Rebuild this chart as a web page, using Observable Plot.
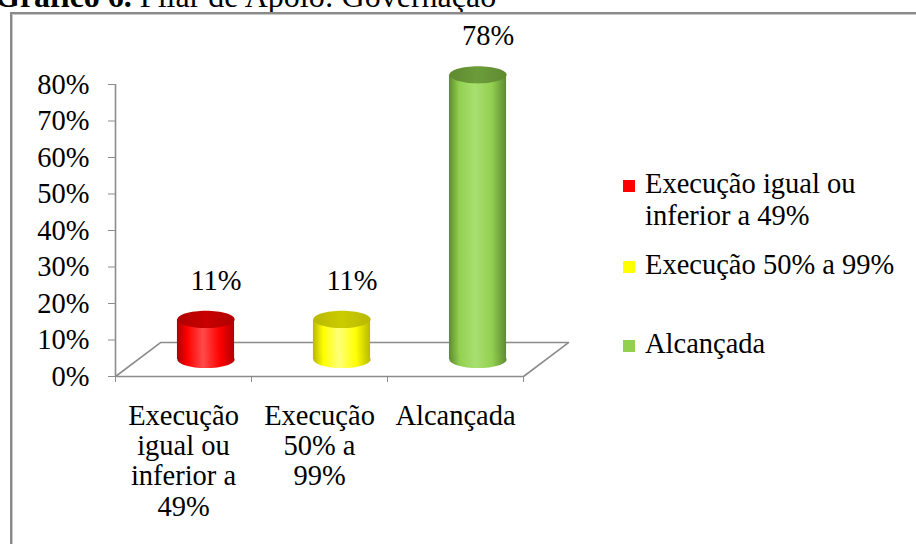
<!DOCTYPE html>
<html>
<head>
<meta charset="utf-8">
<script src="https://cdn.jsdelivr.net/npm/d3@7"></script>
<script src="https://cdn.jsdelivr.net/npm/@observablehq/plot@0.6"></script>
<style>
  html, body { margin: 0; padding: 0; background: #fff; }
  #wrap { position: relative; width: 916px; height: 544px; overflow: hidden; font-family: "Liberation Serif", "Times New Roman", serif; color: #000; }
  #frame { position: absolute; left: 10px; top: 12px; width: 1000px; height: 1000px; border-left: 2px solid #8a8a8a; border-top: 2px solid #8a8a8a; box-shadow: inset 1px 1px 0 #c8c8c8; }
  #title { position: absolute; left: -5px; top: -20px; font-size: 32px; line-height: 32px; white-space: nowrap; }
  #chart { position: absolute; left: 0; top: 0; }
  .leg { position: absolute; left: 623px; font-size: 28.5px; line-height: 32px; }
  .leg .sw { position: absolute; left: 0; width: 12px; height: 12px; }
  .leg .tx { position: absolute; left: 22px; white-space: nowrap; }
</style>
</head>
<body>
<div id="wrap">
  <div id="title"><b>Gráfico 6.</b> Pilar de Apoio: Governação</div>
  <div id="frame"></div>
  <div id="chart"></div>
</div>
<script>
// ---- data ----
const categories = ["Execução igual ou inferior a 49%", "Execução 50% a 99%", "Alcançada"];
const values = [0.11, 0.11, 0.78];
const valueLabels = ["11%", "11%", "78%"];
const tickLabels = ["Execução\nigual ou\ninferior a\n49%", "Execução\n50% a\n99%", "Alcançada"];
const legendLines = [["Execução igual ou", "inferior a 49%"], ["Execução 50% a 99%"], ["Alcançada"]];
const yTicks = [0, 0.1, 0.2, 0.3, 0.4, 0.5, 0.6, 0.7, 0.8];

// ---- style ----
const baseColors = ["#ff0000", "#ffff00", "#92d050"];
const darkColors = ["#b00000", "#b8b800", "#5e8a30"];
const lightColors = ["#ff4a4a", "#ffff7a", "#a8e070"];
const topColors = ["#c80000", "#cccc00", "#6c9c3a"];
const legendTops = [168, 249, 328];

const DX = 0.331, DY = 0.093;      // 3-D depth of the floor (data units)
const HW = 0.21;                    // half width of a cylinder (x units)

const data = categories.map((c, i) => ({ cat: c, i, value: values[i], label: valueLabels[i], tick: tickLabels[i] }));
const floor = [{ x: 0, y: 0 }, { x: 3, y: 0 }, { x: 3 + DX, y: DY }, { x: DX, y: DY }, { x: 0, y: 0 }];

const W = 916, H = 544, ML = 115, MR = 393, MT = 84, MB = 168;
const pxPerX = (W - ML - MR) / 3;
const R = HW * pxPerX;

const ellipse = {
  draw(ctx, size) {
    const rx = Math.sqrt(size / Math.PI), ry = rx * 0.3, k = 0.5523;
    ctx.moveTo(rx, 0);
    ctx.bezierCurveTo(rx, ry * k, rx * k, ry, 0, ry);
    ctx.bezierCurveTo(-rx * k, ry, -rx, ry * k, -rx, 0);
    ctx.bezierCurveTo(-rx, -ry * k, -rx * k, -ry, 0, -ry);
    ctx.bezierCurveTo(rx * k, -ry, rx, -ry * k, rx, 0);
    ctx.closePath();
  }
};
const xc = d => d.i + 0.5 + DX / 2;
const base = DY / 2;

const chart = Plot.plot({
  width: W, height: H,
  marginLeft: ML, marginRight: MR, marginTop: MT, marginBottom: MB,
  x: { domain: [0, 3], axis: null },
  y: { domain: [0, 0.8], axis: null },
  color: { type: "identity" },
  style: { fontFamily: "'Liberation Serif', 'Times New Roman', serif", fontSize: "28.5px", background: "transparent", color: "#000", overflow: "visible" },
  marks: [
    Plot.line(floor, { x: "x", y: "y", stroke: "#8c8c8c", strokeWidth: 1.6 }),
    Plot.ruleX([0], { y1: 0, y2: 0.8, stroke: "#8c8c8c", strokeWidth: 1.6 }),
    Plot.axisY({ ticks: yTicks, tickFormat: d3.format(".0%"), tickSize: 7, tickPadding: 19, stroke: "#8c8c8c", fill: "#000", fontSize: 28.5, anchor: "left", label: null }),
    Plot.axisX({ ticks: [0, 1, 2, 3], tickFormat: () => "", tickSize: 6, stroke: "#8c8c8c", anchor: "bottom", label: null }),
    // cylinder bodies
    Plot.rect(data, { x1: d => xc(d) - HW, x2: d => xc(d) + HW, y1: () => base, y2: d => d.value + base, fill: d => `url(#body${d.i})` }),
    Plot.dot(data, { x: xc, y: () => base, r: R, symbol: ellipse, fill: d => `url(#body${d.i})`, stroke: null }),
    Plot.dot(data, { x: xc, y: d => d.value + base, r: R, symbol: ellipse, fill: d => `url(#top${d.i})`, stroke: null }),
    // value labels
    Plot.text(data, { x: xc, y: d => d.value + base, text: "label", dx: 10, dy: -39, fontSize: 28.5, fill: "#000" }),
    // category labels
    Plot.text(data, { x: d => d.i + 0.5, y: () => 0, text: "tick", lineAnchor: "top", dy: 27, lineHeight: 1.06, fontSize: 28.5, fill: "#000" })
  ]
});

const defs = categories.map((c, i) => `
  <linearGradient id="body${i}" x1="0" x2="1" y1="0" y2="0">
    <stop offset="0" stop-color="${darkColors[i]}"/>
    <stop offset="0.18" stop-color="${baseColors[i]}"/>
    <stop offset="0.45" stop-color="${lightColors[i]}"/>
    <stop offset="0.75" stop-color="${baseColors[i]}"/>
    <stop offset="1" stop-color="${darkColors[i]}"/>
  </linearGradient>
  <linearGradient id="top${i}" x1="0" x2="1" y1="0" y2="0">
    <stop offset="0" stop-color="${darkColors[i]}"/>
    <stop offset="0.5" stop-color="${topColors[i]}"/>
    <stop offset="1" stop-color="${darkColors[i]}"/>
  </linearGradient>`).join("");
chart.insertAdjacentHTML("afterbegin", `<defs>${defs}</defs>`);
document.getElementById("chart").appendChild(chart);

// legend
const wrap = document.getElementById("wrap");
categories.forEach((c, i) => {
  const item = document.createElement("div");
  item.className = "leg";
  item.style.top = legendTops[i] + "px";
  item.innerHTML = `<div class="sw" style="top:12px;background:${baseColors[i]}"></div>` +
    `<div class="tx">${legendLines[i].join("<br>")}</div>`;
  wrap.appendChild(item);
});
</script>
</body>
</html>
